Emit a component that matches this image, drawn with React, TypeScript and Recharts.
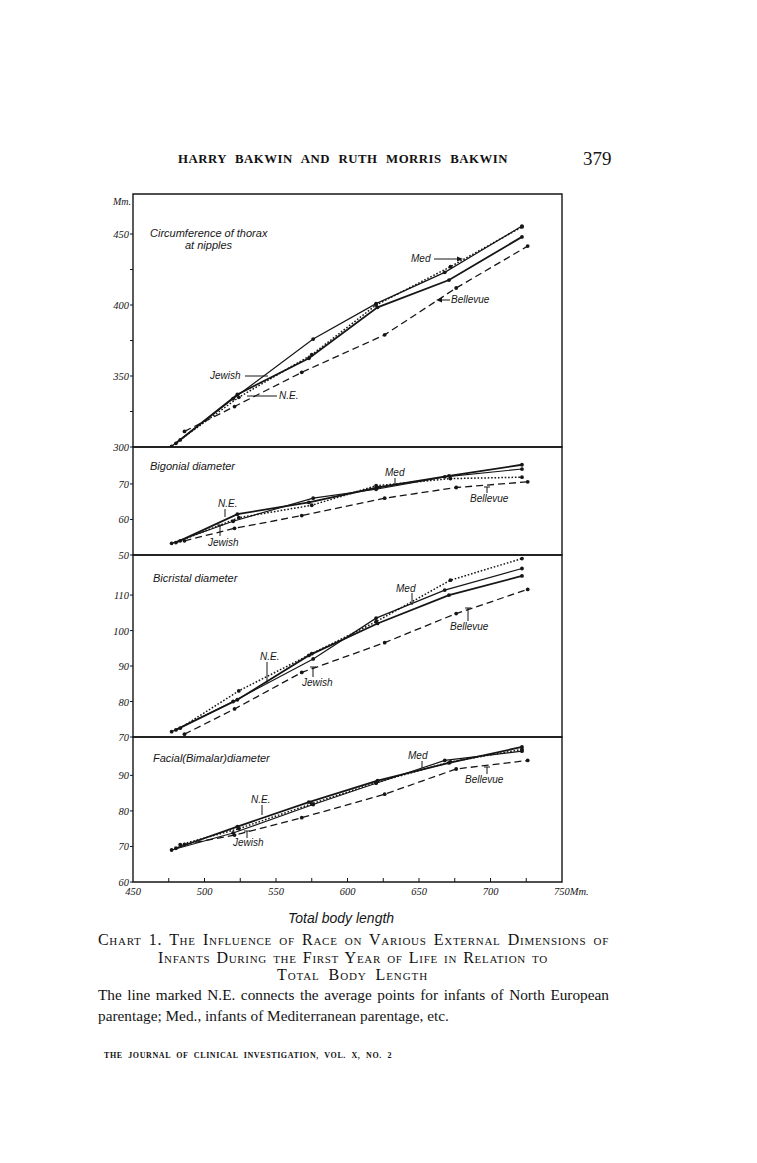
import { Line, LineChart, ReferenceArea, XAxis, YAxis } from "recharts";

const INK = "#161616";
const LETTER = "'Liberation Sans', Arial, sans-serif";
const SERIF = "'Liberation Serif', 'Times New Roman', serif";
const PAD = 10;

// average total body length (mm) of each age group
const NE_LENGTH = [480, 523, 573, 621, 671, 722];
const JEWISH_LENGTH = [477, 520, 576, 620, 668, 722];
const MED_LENGTH = [483, 524, 575, 620, 672, 722];
const BELLEVUE_LENGTH = [486, 521, 568, 626, 676, 726];

// circumference of thorax at nipples (mm)
const THORAX_NE = [302.6, 337, 362.5, 398.4, 417.6, 448];
const THORAX_JEWISH = [300.5, 334, 376, 401, 423, 455.6];
const THORAX_MED = [305, 335, 365, 400, 427, 455];
const THORAX_BELLEVUE = [311, 328.5, 352.6, 379, 412, 441.5];

// bigonial diameter
const BIGONIAL_NE = [53.5, 61.5, 64.8, 69, 72.3, 75.4];
const BIGONIAL_JEWISH = [53.3, 59.5, 66, 68.5, 72, 74.2];
const BIGONIAL_MED = [54, 60.5, 64, 69.5, 71.5, 71.9];
const BIGONIAL_BELLEVUE = [54, 57.5, 61.1, 66, 69, 70.6];

// bicristal diameter
const BICRISTAL_NE = [72, 80.5, 93, 102, 110, 115.4];
const BICRISTAL_JEWISH = [71.5, 80, 92, 103.5, 111.4, 117.5];
const BICRISTAL_MED = [72.5, 83, 93.5, 102.5, 114.2, 120.3];
const BICRISTAL_BELLEVUE = [70.8, 77.9, 88.2, 96.6, 104.8, 111.6];

// facial (bimalar) diameter
const FACIAL_NE = [69.5, 75.6, 82.5, 88.5, 93.5, 98];
const FACIAL_JEWISH = [69, 73.8, 81.8, 87.8, 94.2, 96.8];
const FACIAL_MED = [70.5, 75, 82, 88, 93.8, 97.3];
const FACIAL_BELLEVUE = [70.6, 73.2, 78.1, 84.7, 91.8, 94.2];

const X_TICKS = [450, 475, 500, 525, 550, 575, 600, 625, 650, 675, 700, 725, 750];

const SERIES = [
  { name: "N.E.", lengths: NE_LENGTH, width: 1.8, dash: undefined },
  { name: "Jewish", lengths: JEWISH_LENGTH, width: 1.2, dash: undefined },
  { name: "Med.", lengths: MED_LENGTH, width: 1.5, dash: "1.6 1.8" },
  { name: "Bellevue", lengths: BELLEVUE_LENGTH, width: 1.3, dash: "7 4" },
];

const PANELS = [
  {
    id: "thorax",
    top: 194,
    height: 253,
    domain: [300, 478.2],
    ticks: [300, 325, 350, 375, 400, 425, 450],
    labels: [300, 350, 400, 450],
    values: [THORAX_NE, THORAX_JEWISH, THORAX_MED, THORAX_BELLEVUE],
  },
  {
    id: "bigonial",
    top: 447,
    height: 108,
    domain: [50, 80.4],
    ticks: [50, 60, 70],
    labels: [50, 60, 70],
    values: [BIGONIAL_NE, BIGONIAL_JEWISH, BIGONIAL_MED, BIGONIAL_BELLEVUE],
  },
  {
    id: "bicristal",
    top: 555,
    height: 182,
    domain: [70, 121.3],
    ticks: [70, 80, 90, 100, 110],
    labels: [70, 80, 90, 100, 110],
    values: [BICRISTAL_NE, BICRISTAL_JEWISH, BICRISTAL_MED, BICRISTAL_BELLEVUE],
  },
  {
    id: "facial",
    top: 737,
    height: 145,
    domain: [60, 100.8],
    ticks: [60, 70, 80, 90],
    labels: [60, 70, 80, 90],
    values: [FACIAL_NE, FACIAL_JEWISH, FACIAL_MED, FACIAL_BELLEVUE],
  },
];

const pair = (xs: number[], ys: number[]) => xs.map((x, i) => ({ x, y: ys[i] }));

const YTick = (props: any, labels: number[]) => {
  const { x, y, payload } = props;
  return (
    <g>
      <line x1={x - 3} y1={y} x2={x} y2={y} stroke={INK} strokeWidth={1} />
      {labels.includes(payload.value) && (
        <text
          x={x - 4}
          y={y + 4}
          textAnchor="end"
          fontFamily={SERIF}
          fontStyle="italic"
          fontSize={10.5}
          fill={INK}
        >
          {payload.value}
        </text>
      )}
    </g>
  );
};

const XTick = (props: any) => {
  const { x, y, payload } = props;
  const v = payload.value;
  const label = v % 50 === 0;
  return (
    <g>
      {v !== 450 && v !== 750 && <line x1={x} y1={y} x2={x} y2={y - 4} stroke={INK} strokeWidth={1} />}
      {label && (
        <text
          x={v === 750 ? x - 8 : x}
          y={y + 13}
          textAnchor={v === 750 ? "start" : "middle"}
          fontFamily={SERIF}
          fontStyle="italic"
          fontSize={10.5}
          fill={INK}
        >
          {v === 750 ? "750Mm." : v}
        </text>
      )}
    </g>
  );
};

const Panel = ({ panel, last }: { panel: (typeof PANELS)[number]; last: boolean }) => (
  <div style={{ position: "absolute", left: 0, top: panel.top - PAD }}>
    <LineChart
      width={600}
      height={panel.height + PAD + (last ? 30 : PAD)}
      margin={{ top: PAD, right: 38, bottom: last ? 0 : PAD, left: 0 }}
    >
      <XAxis
        type="number"
        dataKey="x"
        domain={[450, 750]}
        ticks={X_TICKS}
        allowDataOverflow
        hide={!last}
        height={30}
        axisLine={false}
        tickLine={false}
        tickSize={0}
        tickMargin={0}
        interval={0}
        tick={XTick}
      />
      <YAxis
        type="number"
        domain={panel.domain}
        ticks={panel.ticks}
        allowDataOverflow
        width={133}
        axisLine={false}
        tickLine={false}
        tickSize={0}
        tickMargin={0}
        interval={0}
        tick={(p: any) => YTick(p, panel.labels)}
      />
      <ReferenceArea
        x1={450}
        x2={750}
        y1={panel.domain[0]}
        y2={panel.domain[1]}
        fill="none"
        stroke={INK}
        strokeWidth={1.4}
        ifOverflow="visible"
      />
      {SERIES.map((s, i) => (
        <Line
          key={s.name}
          name={s.name}
          data={pair(s.lengths, panel.values[i])}
          dataKey="y"
          type="linear"
          stroke={INK}
          strokeWidth={s.width}
          strokeDasharray={s.dash}
          dot={{ r: 1.9, fill: INK, stroke: INK, strokeWidth: 0 }}
          isAnimationActive={false}
        />
      ))}
    </LineChart>
  </div>
);

const Txt = ({ x, y, size = 11, font = LETTER, italic = true, children, style = {} }: any) => (
  <div
    style={{
      position: "absolute",
      left: x,
      top: y,
      fontFamily: font,
      fontStyle: italic ? "italic" : "normal",
      fontSize: size,
      lineHeight: 1,
      color: INK,
      whiteSpace: "nowrap",
      ...style,
    }}
  >
    {children}
  </div>
);

const Row = ({ x, y, w, size, children, style = {} }: any) => (
  <div
    style={{
      position: "absolute",
      left: x,
      top: y,
      width: w,
      fontFamily: SERIF,
      fontSize: size,
      lineHeight: 1.1,
      color: "#111",
      textAlign: "justify",
      textAlignLast: "justify",
      ...style,
    }}
  >
    {children}
  </div>
);

// leader lines for the hand lettered labels: [x1, y1, x2, y2]
const LEADERS = [
  [434, 259, 461, 259],
  [438, 300, 450, 300],
  [245, 376, 268, 376],
  [247, 396, 277, 396],
  [395, 478, 395, 485],
  [487, 487, 487, 493],
  [225, 509, 225, 517],
  [220, 536, 220, 525],
  [412, 593, 412, 605],
  [468, 621, 468, 608],
  [267, 662, 267, 683],
  [313, 677, 313, 667],
  [422, 761, 422, 768],
  [487, 767, 487, 774],
  [262, 805, 262, 815],
  [247, 838, 247, 831],
];
const CAPS = [
  [487, 487],
  [220, 525],
  [468, 608],
  [313, 667],
  [487, 767],
  [247, 831],
];

export default function App() {
  return (
    <div style={{ position: "absolute", left: 0, top: 0, width: 757, height: 1163, background: "#fff", overflow: "hidden" }}>
      <Row x={178} y={152} w={330} size={12.8} style={{ fontWeight: "bold", letterSpacing: 0.5 }}>
        HARRY BAKWIN AND RUTH MORRIS BAKWIN
      </Row>
      <Txt x={583} y={149} size={19} font={SERIF} italic={false}>
        379
      </Txt>

      {PANELS.map((p, i) => (
        <Panel key={p.id} panel={p} last={i === PANELS.length - 1} />
      ))}

      <Txt x={113} y={197} size={10} font={SERIF}>Mm.</Txt>

      <Txt x={150} y={228}>Circumference of thorax</Txt>
      <Txt x={185} y={240}>at nipples</Txt>
      <Txt x={411} y={254} size={10}>Med</Txt>
      <Txt x={451} y={295} size={10}>Bellevue</Txt>
      <Txt x={210} y={371} size={10}>Jewish</Txt>
      <Txt x={279} y={391} size={10}>N.E.</Txt>

      <Txt x={150} y={461}>Bigonial diameter</Txt>
      <Txt x={385} y={468} size={10}>Med</Txt>
      <Txt x={470} y={494} size={10}>Bellevue</Txt>
      <Txt x={218} y={499} size={10}>N.E.</Txt>
      <Txt x={208} y={538} size={10}>Jewish</Txt>

      <Txt x={153} y={573}>Bicristal diameter</Txt>
      <Txt x={396} y={584} size={10}>Med</Txt>
      <Txt x={450} y={622} size={10}>Bellevue</Txt>
      <Txt x={260} y={652} size={10}>N.E.</Txt>
      <Txt x={302} y={678} size={10}>Jewish</Txt>

      <Txt x={153} y={753}>Facial(Bimalar)diameter</Txt>
      <Txt x={408} y={751} size={10}>Med</Txt>
      <Txt x={465} y={775} size={10}>Bellevue</Txt>
      <Txt x={251} y={795} size={10}>N.E.</Txt>
      <Txt x={233} y={838} size={10}>Jewish</Txt>

      <svg width={757} height={1163} style={{ position: "absolute", left: 0, top: 0, pointerEvents: "none" }}>
        {LEADERS.map(([x1, y1, x2, y2], i) => (
          <line key={i} x1={x1} y1={y1} x2={x2} y2={y2} stroke={INK} strokeWidth={1} />
        ))}
        {CAPS.map(([x, y], i) => (
          <line key={"c" + i} x1={x - 3} y1={y} x2={x + 3} y2={y} stroke={INK} strokeWidth={1} />
        ))}
        <polygon points="463,259 457,256.5 457,261.5" fill={INK} />
        <polygon points="436,300 442,297.5 442,302.5" fill={INK} />
      </svg>

      <Txt x={288} y={911} size={14}>Total body length</Txt>

      <Row x={98} y={931} w={511} size={16} style={{ fontVariant: "small-caps", letterSpacing: 0.7 }}>
        Chart 1. The Influence of Race on Various External Dimensions of
      </Row>
      <Row x={158} y={949} w={390} size={16} style={{ fontVariant: "small-caps", letterSpacing: 0.7 }}>
        Infants During the First Year of Life in Relation to
      </Row>
      <Row x={277} y={966} w={151} size={16} style={{ fontVariant: "small-caps", letterSpacing: 0.9 }}>
        Total Body Length
      </Row>
      <Row x={98} y={987} w={511} size={15.3}>
        The line marked N.E. connects the average points for infants of North European
      </Row>
      <Txt x={98} y={1008} size={15.3} font={SERIF} italic={false}>
        parentage; Med., infants of Mediterranean parentage, etc.
      </Txt>
      <Row x={104} y={1052} w={288} size={8} style={{ fontWeight: "bold", letterSpacing: 0.6 }}>
        THE JOURNAL OF CLINICAL INVESTIGATION, VOL. X, NO. 2
      </Row>
    </div>
  );
}
